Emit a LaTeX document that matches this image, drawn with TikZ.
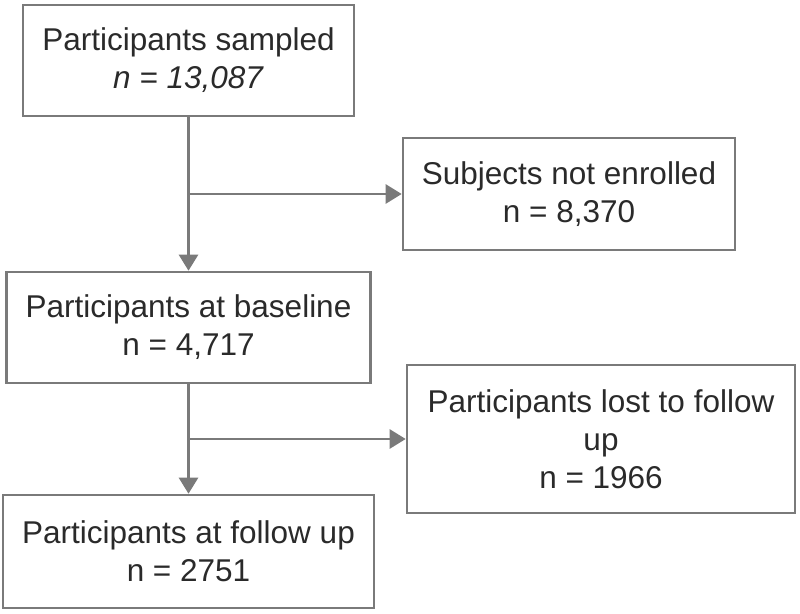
\documentclass[tikz,border=0pt]{standalone}
\usepackage{fontspec}
\setmainfont{Liberation Sans}
\usetikzlibrary{arrows.meta}
\definecolor{linegray}{HTML}{7A7A7A}
\definecolor{textgray}{HTML}{2A2A2A}
\tikzset{
  box/.style={draw=linegray, line width=2.6pt, fill=white, align=center, inner sep=0pt,
    text=textgray, font=\fontsize{31.5}{38}\selectfont},
  arr/.style={draw=linegray, line width=2.6pt, -{Triangle[length=16pt,width=19pt]}},
}
\begin{document}
\begin{tikzpicture}[x=1pt,y=-1pt]
\useasboundingbox (0,0) rectangle (800,613);
\node[box, minimum width=331pt, minimum height=111pt] (b1) at (188.5,60.5)
  {Participants sampled\\\textit{n = 13,087}};
\node[box, minimum width=332pt, minimum height=112pt] (b2) at (569,194)
  {Subjects not enrolled\\n = 8,370};
\node[box, minimum width=364pt, minimum height=111pt] (b3) at (188.5,327.5)
  {Participants at baseline\\n = 4,717};
\node[box, minimum width=388pt, minimum height=148pt] (b4) at (601,439)
  {Participants lost to follow\\up\\n = 1966};
\node[box, minimum width=371pt, minimum height=113pt] (b5) at (188.5,551.5)
  {Participants at follow up\\n = 2751};
\draw[arr] (b1.south) -- (b3.north);
\draw[arr] (b1.south |- b2.west) -- (b2.west);
\draw[arr] (b3.south) -- (b5.north);
\draw[arr] (b3.south |- b4.west) -- (b4.west);
\end{tikzpicture}
\end{document}
